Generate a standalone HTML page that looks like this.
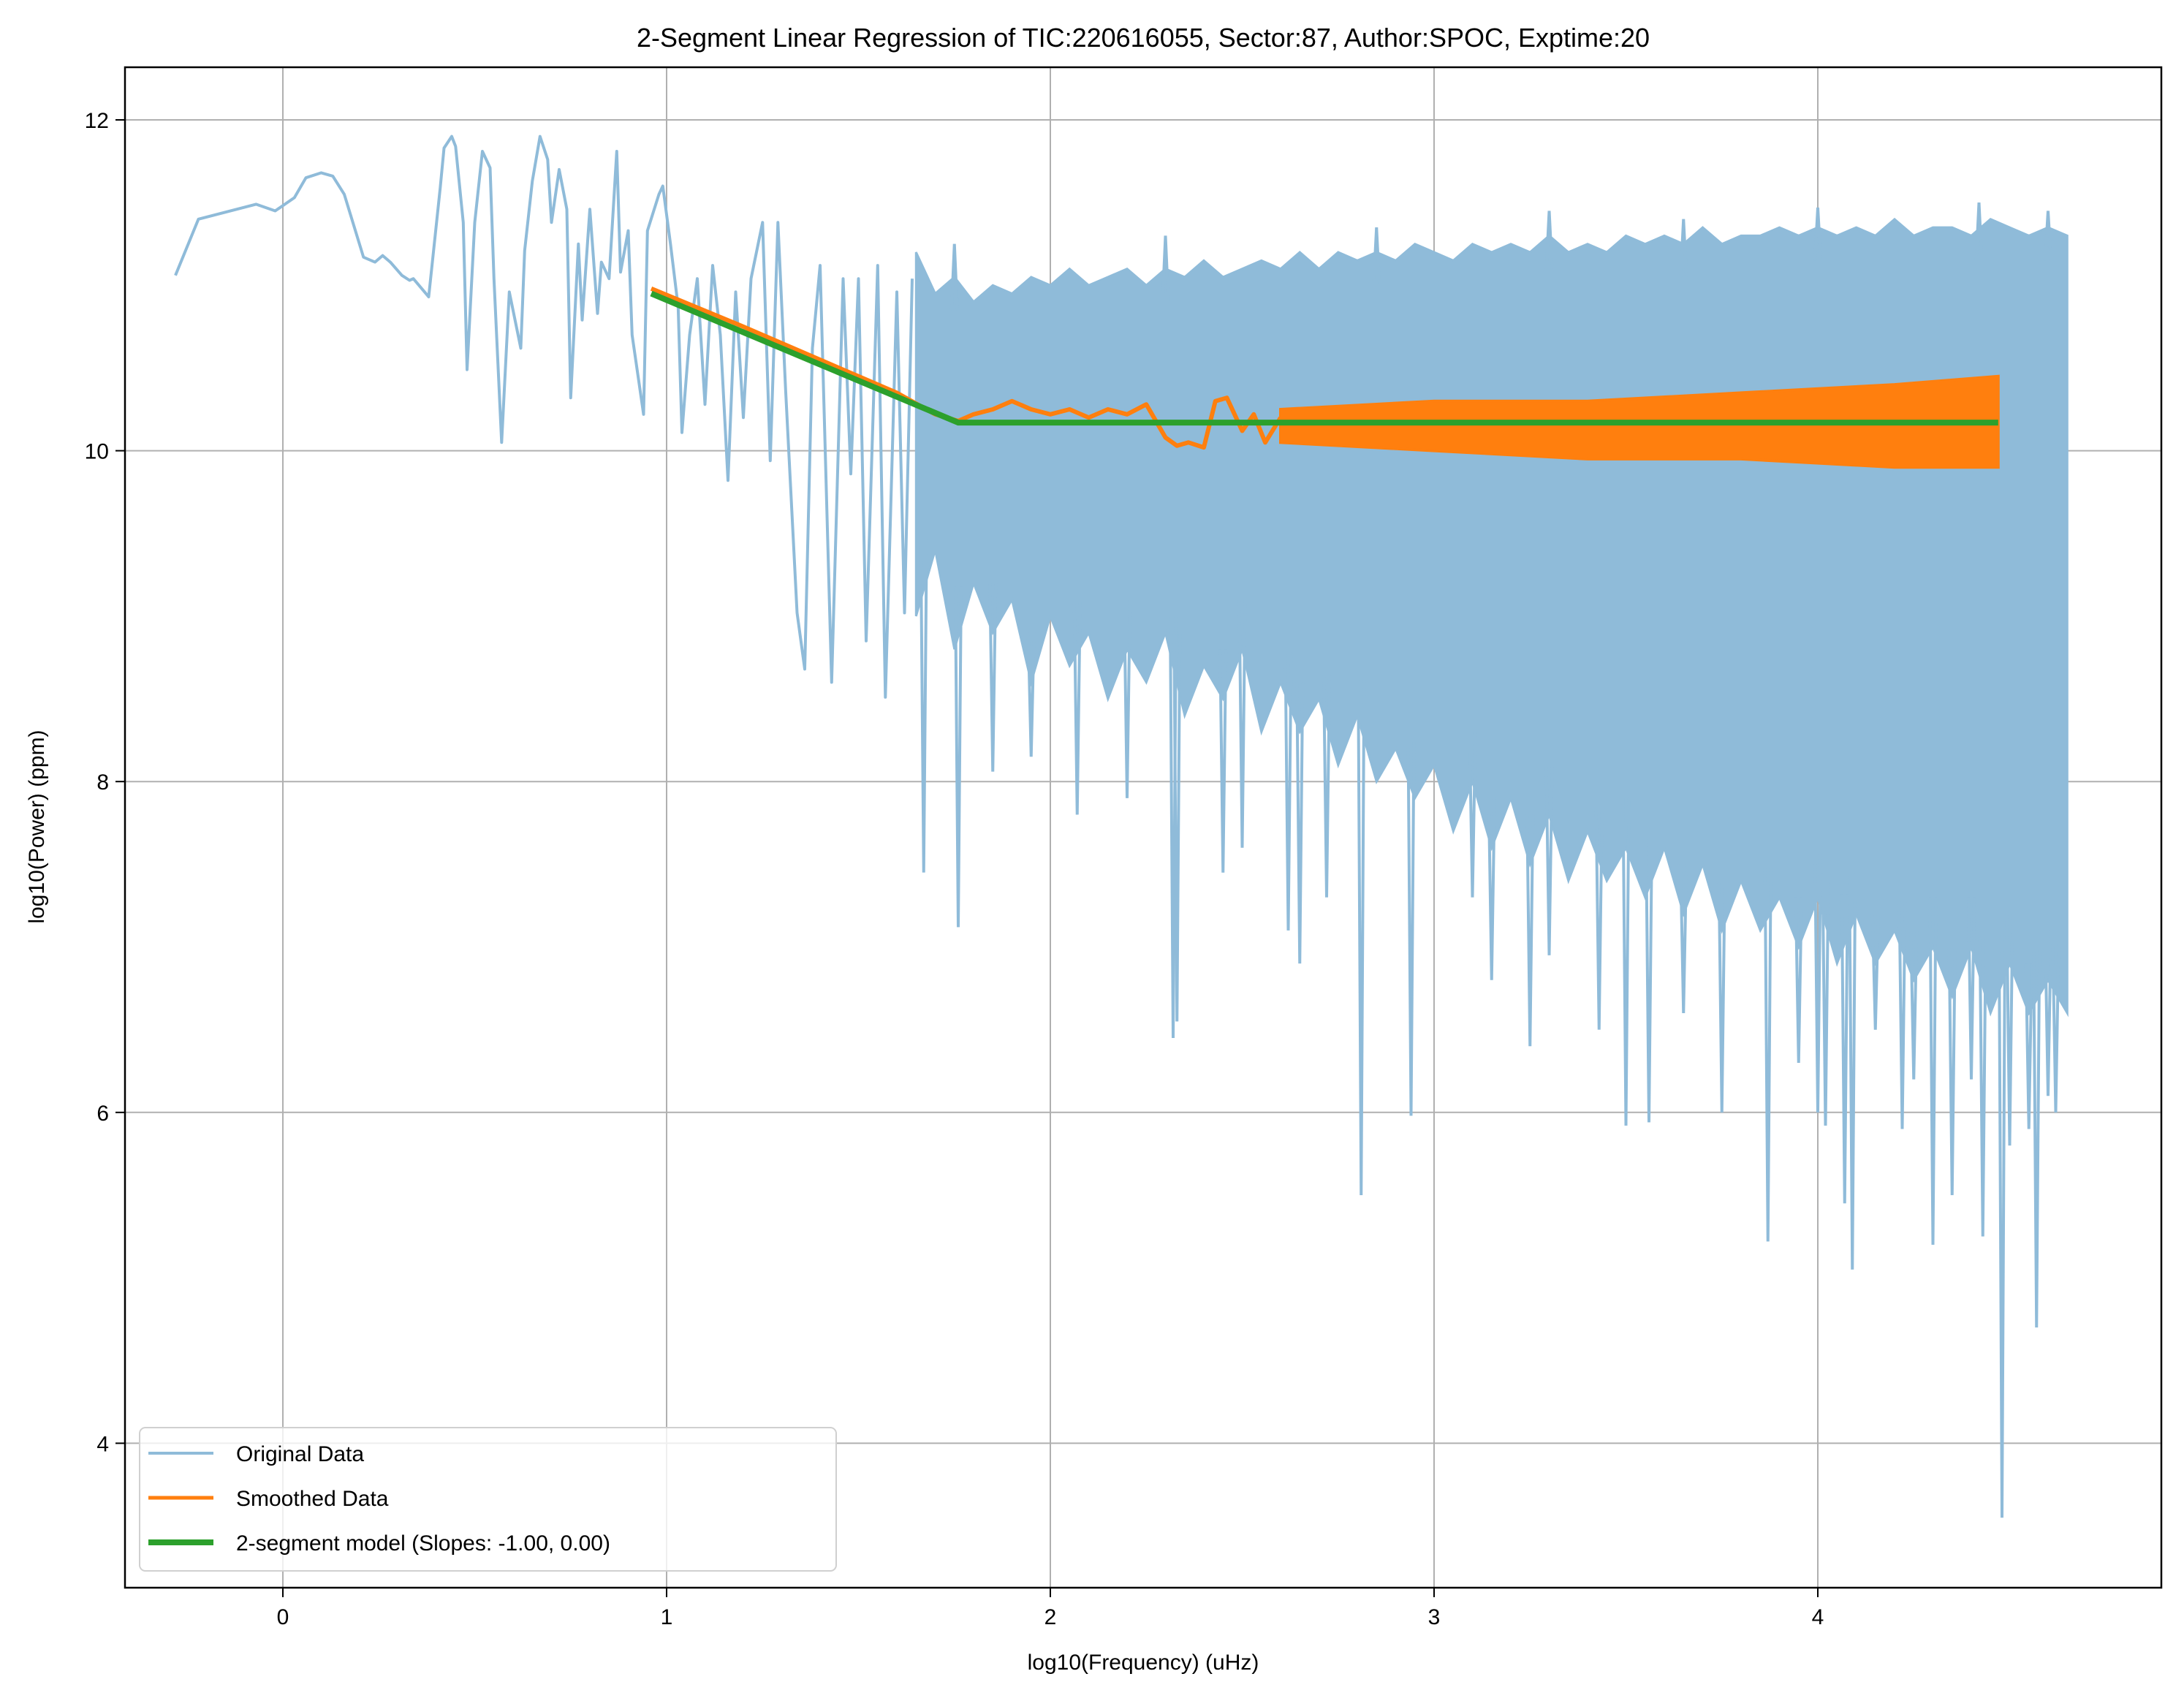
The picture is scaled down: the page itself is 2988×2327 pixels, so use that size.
<!DOCTYPE html>
<html><head><meta charset="utf-8"><style>
html,body{margin:0;padding:0;background:#fff;}
svg{display:block;font-family:"Liberation Sans","DejaVu Sans",sans-serif;}
</style></head><body>
<svg id="chart" width="2988" height="2327" viewBox="0 0 2988 2327" xmlns="http://www.w3.org/2000/svg">
<rect width="2988" height="2327" fill="#fff"/>
<g id="grid"></g>
<g id="plot"></g>
<g id="axes"></g>
<text x="1564" y="64" font-size="36" text-anchor="middle">2-Segment Linear Regression of TIC:220616055, Sector:87, Author:SPOC, Exptime:20</text>
<text x="1564" y="2284" font-size="30" text-anchor="middle">log10(Frequency) (uHz)</text>
<text transform="translate(60,1131) rotate(-90)" font-size="30" text-anchor="middle">log10(Power) (ppm)</text>
<g>
<rect x="191" y="1953" width="953" height="196" rx="8" fill="#fff" fill-opacity="0.8" stroke="#d0d0d0" stroke-width="2"/>
<line x1="203" y1="1988" x2="292" y2="1988" stroke="#8fbbd9" stroke-width="4"/>
<text x="323" y="1999" font-size="30">Original Data</text>
<line x1="203" y1="2049" x2="292" y2="2049" stroke="#ff7f0e" stroke-width="5"/>
<text x="323" y="2060" font-size="30">Smoothed Data</text>
<line x1="203" y1="2110" x2="292" y2="2110" stroke="#2ca02c" stroke-width="8"/>
<text x="323" y="2121" font-size="30">2-segment model (Slopes: -1.00, 0.00)</text>
</g>
</svg>
<script>
// ---- data ----
const xTicks=[0,1,2,3,4];
const yTicks=[4,6,8,10,12];
const lowX=[-0.28,-0.22,-0.07,-0.02,0.03,0.06,0.10,0.13,0.16,0.21,0.24,0.26,0.28,0.31,0.33,0.34,0.38,0.41,0.42,0.44,0.45,0.47,0.48,0.50,0.52,0.54,0.55,0.57,0.59,0.62,0.63,0.65,0.67,0.69,0.70,0.72,0.74,0.75,0.77,0.78,0.80,0.82,0.83,0.85,0.87,0.88,0.90,0.91,0.94,0.95,0.98,0.99,1.01,1.03,1.04,1.06,1.08,1.10,1.12,1.14,1.16,1.18,1.20,1.22,1.25,1.27,1.29,1.31,1.34,1.36,1.38,1.40,1.43,1.46,1.48,1.50,1.52,1.55,1.57,1.60,1.62,1.64];
const lowY=[11.06,11.40,11.49,11.45,11.53,11.65,11.68,11.66,11.55,11.17,11.14,11.18,11.14,11.06,11.03,11.04,10.93,11.59,11.83,11.90,11.84,11.38,10.49,11.38,11.81,11.71,11.04,10.05,10.96,10.62,11.21,11.63,11.90,11.76,11.38,11.70,11.46,10.32,11.25,10.79,11.46,10.83,11.14,11.04,11.81,11.08,11.33,10.70,10.22,11.33,11.55,11.60,11.25,10.87,10.11,10.70,11.04,10.28,11.12,10.70,9.82,10.96,10.20,11.04,11.38,9.94,11.38,10.37,9.02,8.68,10.62,11.12,8.60,11.04,9.86,11.04,8.85,11.12,8.51,10.96,9.02,11.04];
const envStart=1.65, envStep=0.05;
const envUpper=[11.2,10.95,11.05,10.9,11.0,10.95,11.05,11.0,11.1,11.0,11.05,11.1,11.0,11.1,11.05,11.15,11.05,11.1,11.15,11.1,11.2,11.1,11.2,11.15,11.2,11.15,11.25,11.2,11.15,11.25,11.2,11.25,11.2,11.3,11.2,11.25,11.2,11.3,11.25,11.3,11.25,11.35,11.25,11.3,11.3,11.35,11.3,11.35,11.3,11.35,11.3,11.4,11.3,11.35,11.35,11.3,11.4,11.35,11.3,11.35,11.3];
const envLower=[9.0,9.4,8.8,9.2,8.9,9.1,8.6,9.0,8.7,8.9,8.5,8.8,8.6,8.9,8.4,8.7,8.5,8.8,8.3,8.6,8.3,8.5,8.1,8.4,8.0,8.2,7.9,8.1,7.7,8.0,7.6,7.9,7.5,7.8,7.4,7.7,7.4,7.6,7.3,7.6,7.2,7.5,7.1,7.4,7.1,7.3,7.0,7.3,6.9,7.2,6.9,7.1,6.8,7.0,6.7,7.0,6.6,6.9,6.6,6.8,6.6];
const spikeX=[1.67,1.76,1.85,1.95,2.07,2.2,2.32,2.33,2.45,2.5,2.62,2.65,2.72,2.81,2.94,3.1,3.15,3.25,3.3,3.43,3.5,3.56,3.65,3.75,3.87,3.95,4.0,4.02,4.07,4.09,4.15,4.22,4.25,4.3,4.35,4.4,4.43,4.48,4.5,4.55,4.57,4.6,4.62];
const spikeY=[7.45,7.12,8.06,8.15,7.8,7.9,6.45,6.55,7.45,7.6,7.1,6.9,7.3,5.5,5.98,7.3,6.8,6.4,6.95,6.5,5.92,5.94,6.6,6.0,5.22,6.3,6.0,5.92,5.45,5.05,6.5,5.9,6.2,5.2,5.5,6.2,5.25,3.55,5.8,5.9,4.7,6.1,6.0];
const upSpikeX=[1.75,2.3,2.85,3.3,3.65,4.0,4.42,4.6];
const upSpikeY=[11.25,11.3,11.35,11.45,11.4,11.47,11.5,11.45];
const smX=[0.96,1.2,1.5,1.6,1.7,1.76,1.8,1.85,1.9,1.95,2.0,2.05,2.1,2.15,2.2,2.25,2.3,2.33,2.36,2.4,2.43,2.46,2.5,2.53,2.56,2.6];
const smY=[10.98,10.75,10.45,10.35,10.22,10.18,10.22,10.25,10.3,10.25,10.22,10.25,10.2,10.25,10.22,10.28,10.08,10.03,10.05,10.02,10.3,10.32,10.12,10.22,10.05,10.2];
const bandX=[2.6,3.0,3.4,3.8,4.2,4.47];
const bandUpper=[10.25,10.3,10.3,10.35,10.4,10.45];
const bandLower=[10.05,10.0,9.95,9.95,9.9,9.9];
const modelX=[0.96,1.76,4.47];
const modelY=[10.95,10.17,10.17];
// ---- axes ----
const X0=171,X1=2957,Y0=92,Y1=2172;
const sx=v=>387+525*v;
const sy=v=>164+226.3*(12-v);
const NS='http://www.w3.org/2000/svg';
function mk(tag,attrs,parent){const e=document.createElementNS(NS,tag);for(const k in attrs)e.setAttribute(k,attrs[k]);parent.appendChild(e);return e;}
const grid=document.getElementById('grid'),plot=document.getElementById('plot'),axes=document.getElementById('axes');
xTicks.forEach(t=>{
 const g=mk('line',{x1:sx(t),x2:sx(t),y1:Y0,y2:Y1,stroke:'#b0b0b0','stroke-width':2},grid);
 
 
 mk('line',{x1:sx(t),x2:sx(t),y1:Y1,y2:Y1+13,stroke:'#000','stroke-width':2},axes);
 const l=mk('text',{x:sx(t),y:Y1+50,'font-size':30,'text-anchor':'middle'},axes);
 l.textContent=t;
 
 
});
yTicks.forEach(t=>{
 const g=mk('line',{x1:X0,x2:X1,y1:sy(t),y2:sy(t),stroke:'#b0b0b0','stroke-width':2},grid);
 
 
 mk('line',{x1:X0-13,x2:X0,y1:sy(t),y2:sy(t),stroke:'#000','stroke-width':2},axes);
 const l=mk('text',{x:X0-22,y:sy(t)+11,'font-size':30,'text-anchor':'end'},axes);
 l.textContent=t;
 
 
});
mk('rect',{x:X0,y:Y0,width:X1-X0,height:Y1-Y0,fill:'none',stroke:'#000','stroke-width':2.5},axes);
// ---- original data ----
const blue='#8fbbd9';
let d=lowX.map((x,i)=>(i?'L':'M')+sx(x).toFixed(1)+','+sy(lowY[i]).toFixed(1)).join('');
const p1=mk('path',{d:d,fill:'none',stroke:blue,'stroke-width':4,'stroke-linejoin':'round'},plot);


const nEnv=Math.min(envUpper.length,envLower.length);
const envX=[];for(let i=0;i<nEnv;i++)envX.push(envStart+envStep*i);
let env='M'+envX.map((x,i)=>sx(x).toFixed(1)+','+sy(envUpper[i]).toFixed(1)).join('L');
for(let i=nEnv-1;i>=0;i--)env+='L'+sx(envX[i]).toFixed(1)+','+sy(envLower[i]).toFixed(1);
env+='Z';
const p2=mk('path',{d:env,fill:blue,stroke:blue,'stroke-width':3},plot);


function interp(arr,x){for(let i=0;i<nEnv-1;i++){if(x>=envX[i]&&x<=envX[i+1]){const f=(x-envX[i])/(envX[i+1]-envX[i]);return arr[i]+f*(arr[i+1]-arr[i]);}}return arr[nEnv-1];}
spikeX.forEach((x,i)=>{
 const b=interp(envLower,x)+0.3;
 const s=mk('path',{d:'M'+(sx(x)-4)+','+sy(b)+'L'+sx(x)+','+sy(spikeY[i])+'L'+(sx(x)+4)+','+sy(b),fill:'none',stroke:blue,'stroke-width':4},plot);
 
 
});
upSpikeX.forEach((x,i)=>{
 const b=interp(envUpper,x)-0.2;
 const s=mk('path',{d:'M'+(sx(x)-4)+','+sy(b)+'L'+sx(x)+','+sy(upSpikeY[i])+'L'+(sx(x)+4)+','+sy(b),fill:'none',stroke:blue,'stroke-width':4},plot);
 
 
});
// ---- smoothed ----
const orange='#ff7f0e';
const p3=mk('path',{d:smX.map((x,i)=>(i?'L':'M')+sx(x).toFixed(1)+','+sy(smY[i]).toFixed(1)).join(''),fill:'none',stroke:orange,'stroke-width':6,'stroke-linejoin':'round'},plot);


let band='M'+bandX.map((x,i)=>sx(x).toFixed(1)+','+sy(bandUpper[i]).toFixed(1)).join('L');
for(let i=bandX.length-1;i>=0;i--)band+='L'+sx(bandX[i]).toFixed(1)+','+sy(bandLower[i]).toFixed(1);
band+='Z';
const p4=mk('path',{d:band,fill:orange,stroke:orange,'stroke-width':4},plot);


// ---- model ----
const p5=mk('path',{d:modelX.map((x,i)=>(i?'L':'M')+sx(x).toFixed(1)+','+sy(modelY[i]).toFixed(1)).join(''),fill:'none',stroke:'#2ca02c','stroke-width':8},plot);


</script>
</body></html>
